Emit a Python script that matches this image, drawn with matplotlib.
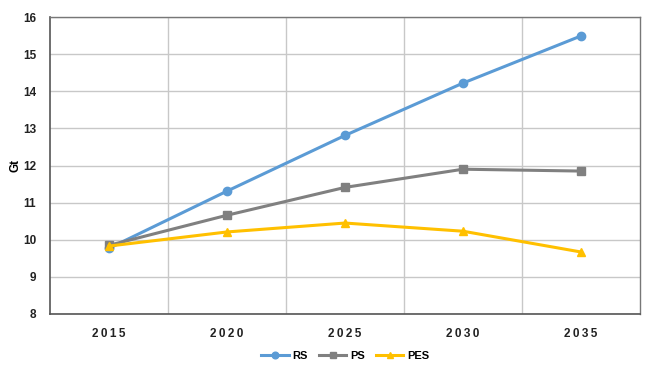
import matplotlib
matplotlib.use("Agg")
import matplotlib.pyplot as plt

years = ["2015", "2020", "2025", "2030", "2035"]
rs = [9.77, 11.31, 12.81, 14.22, 15.49]
ps = [9.85, 10.66, 11.41, 11.90, 11.85]
pes = [9.83, 10.21, 10.45, 10.23, 9.67]
yticks = [8, 9, 10, 11, 12, 13, 14, 15, 16]

plt.rcParams['font.family'] = ['Liberation Sans', 'DejaVu Sans']
fig = plt.figure(figsize=(6.47, 3.76), dpi=100)
ax = fig.add_axes([50/647, 1-314/376, 590/647, 297/376])

x = range(len(years))
ax.plot(x, rs, color="#5B9BD5", lw=2.2, marker="o", ms=6, label="RS")
ax.plot(x, ps, color="#808080", lw=2.2, marker="s", ms=6, label="PS")
ax.plot(x, pes, color="#FFC000", lw=2.2, marker="^", ms=6, label="PES")

ax.set_xlim(-0.5, 4.5)
ax.set_ylim(8, 16)
ax.set_yticks(yticks)
ax.set_yticklabels([str(v) for v in yticks], fontsize=8.5, fontweight="bold", color="#222222")
ax.set_xticks(list(x))
ax.set_xticklabels(["\u2009".join(y) for y in years], fontsize=8.5, fontweight="bold", color="#222222")
ax.set_xticks([0.5, 1.5, 2.5, 3.5], minor=True)
ax.tick_params(axis="both", which="both", length=0)
ax.tick_params(axis="y", pad=10)
ax.tick_params(axis="x", pad=10)
ax.grid(axis="y", which="major", color="#C8C8C8", lw=1)
ax.grid(axis="x", which="minor", color="#C8C8C8", lw=1)
ax.set_axisbelow(True)
for s in ["left", "bottom"]:
    ax.spines[s].set_color("#555555")
    ax.spines[s].set_linewidth(1.2)
for s in ["top", "right"]:
    ax.spines[s].set_color("#777777")
    ax.spines[s].set_linewidth(1.0)
ax.set_ylabel("Gt", fontsize=8.5, fontweight="bold", labelpad=1)

leg = ax.legend(loc="upper center", bbox_to_anchor=(0.5, -0.09), ncol=3, frameon=False,
                prop={"weight": "bold", "size": 8}, handlelength=2.5,
                columnspacing=1.0, handletextpad=0.3, markerscale=0.8)
fig.savefig("out.png", dpi=100)
